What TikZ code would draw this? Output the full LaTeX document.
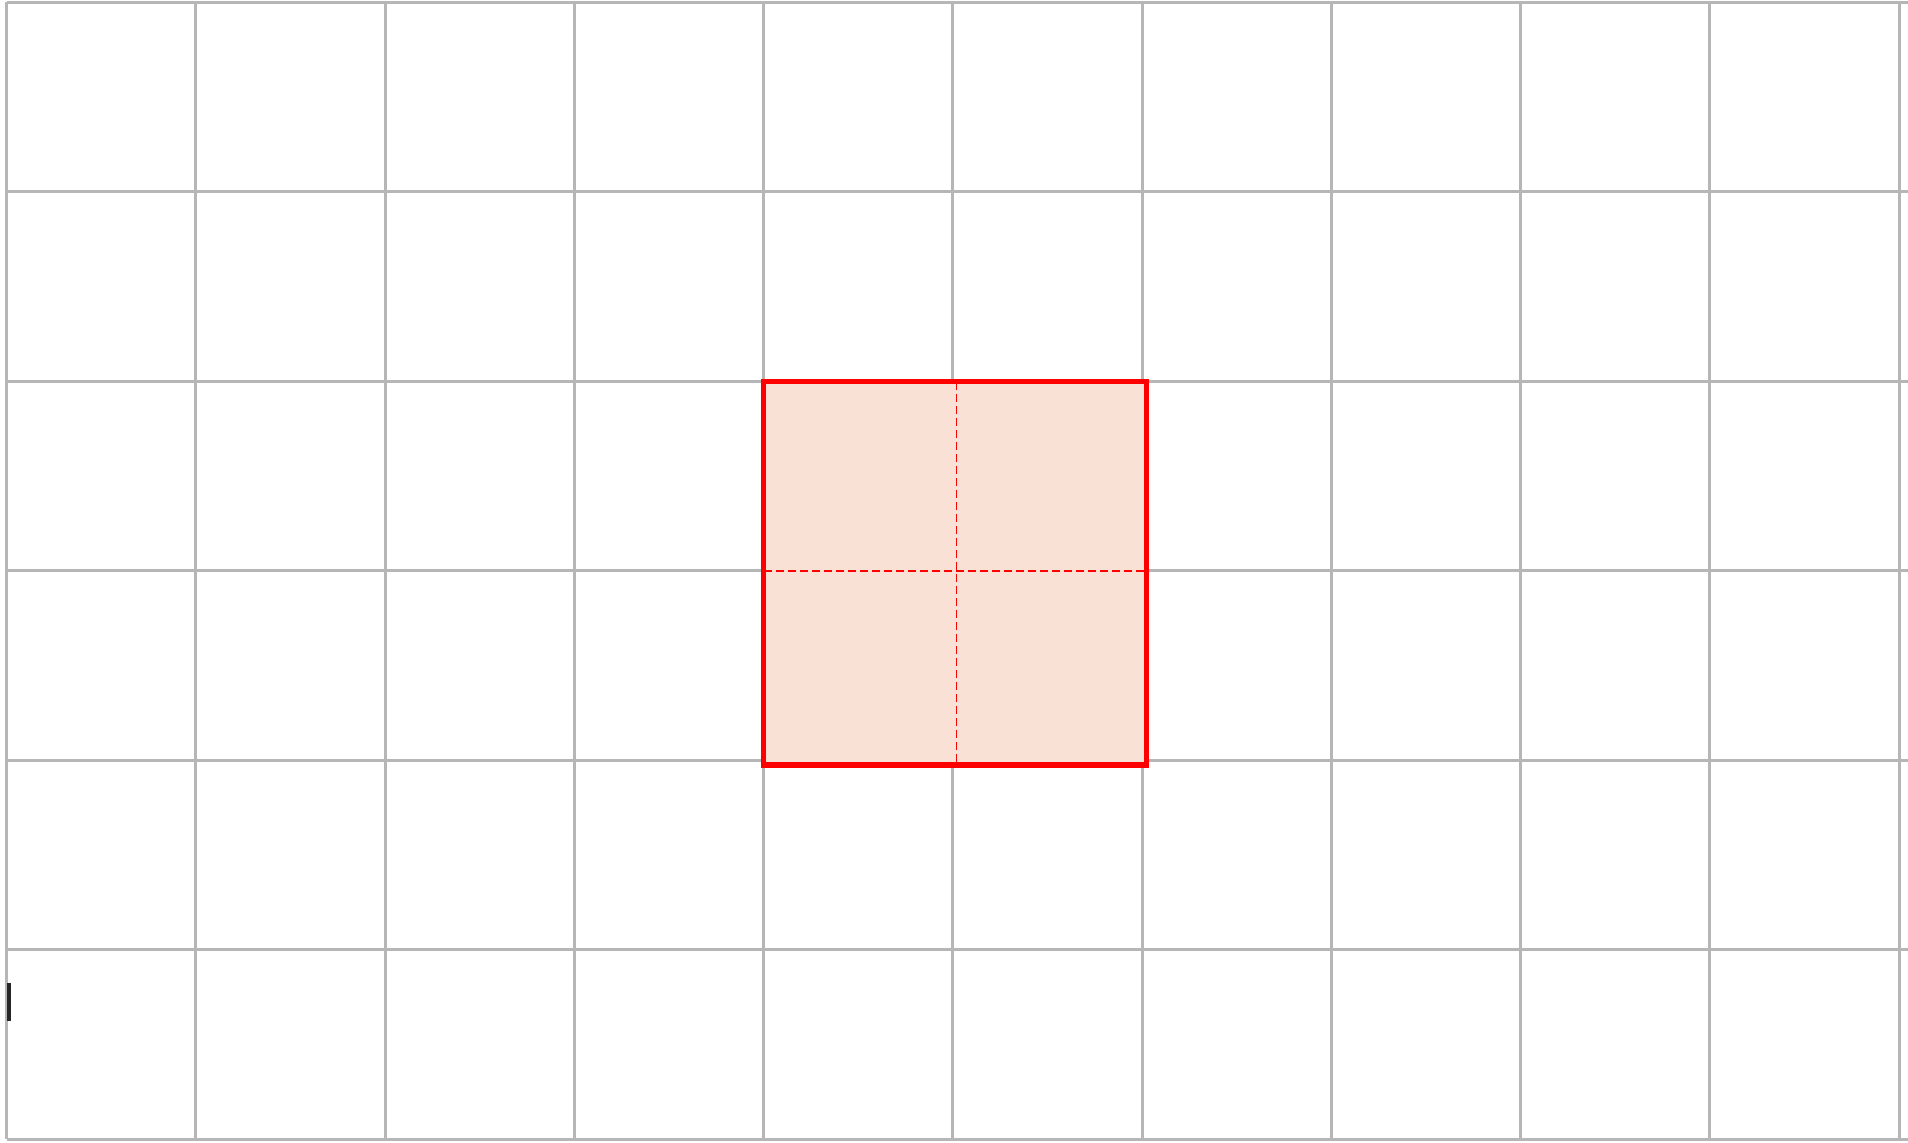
\documentclass[tikz,border=0pt]{standalone}
\usetikzlibrary{calc}
\definecolor{gridgray}{RGB}{182,182,182}
\definecolor{sqfill}{RGB}{250,225,214}
\definecolor{sqred}{RGB}{255,0,0}
\tikzset{
  gridline/.style={draw=gridgray, line width=1.5pt},
  redbox/.style={draw=sqred, line width=2.8pt, fill=sqfill},
  reddash/.style={draw=sqred, line width=0.9pt, dash pattern=on 4pt off 2pt},
  cursorbar/.style={draw=black!85, line width=2pt}
}
\begin{document}
\begin{tikzpicture}[x=0.5pt,y=-0.5pt]
\useasboundingbox (0,0) rectangle (1908,1142);
\fill[white] (0,0) rectangle (1908,1142);
% vertical grid lines
\foreach \i in {0,...,10} {
  \draw[gridline] ({6.5+\i*189.25},2) -- ({6.5+\i*189.25},1139);
}
% horizontal grid lines
\foreach \j in {0,...,6} {
  \draw[gridline] (6.5,{2+\j*189.5}) -- (1908,{2+\j*189.5});
}
% red square
\coordinate (sqA) at (763.5,381.5);
\coordinate (sqB) at (1146.5,765);
\draw[redbox] (sqA) rectangle (sqB);
\coordinate (midT) at (956.5,381.5);
\coordinate (midB) at (956.5,765);
\coordinate (midL) at (763.5,571);
\coordinate (midR) at (1146.5,571);
\draw[reddash] (midT) -- (midB);
\draw[reddash] (midL) -- (midR);
% small black bar
\coordinate (barT) at (9.3,983);
\coordinate (barB) at (9.3,1021);
\draw[cursorbar] (barT) -- (barB);
\end{tikzpicture}
\end{document}
